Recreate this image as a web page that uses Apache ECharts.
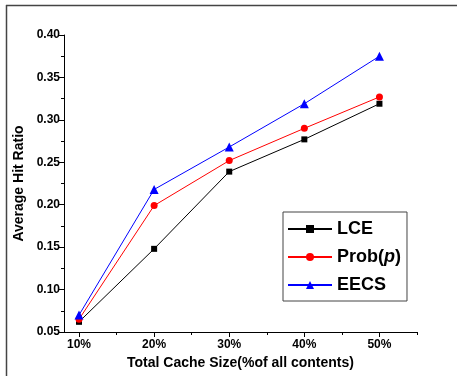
<!DOCTYPE html>
<html><head><meta charset="utf-8">
<script src="https://cdn.jsdelivr.net/npm/echarts@6/dist/echarts.min.js"></script>
<style>html,body{margin:0;padding:0;background:#fff}#c{width:457px;height:376px}</style>
</head><body><div id="c"></div>
<script>
var categories = [10, 20, 30, 40, 50];
var tickLabels = ['10%', '20%', '30%', '40%', '50%'];
var lce = [0.062, 0.148, 0.239, 0.277, 0.319];
var prob = [0.065, 0.199, 0.252, 0.290, 0.327];
var eecs = [0.070, 0.218, 0.268, 0.319, 0.375];
var seriesNames = ['LCE', 'Prob(p)', 'EECS'];

function pairs(vals){ return categories.map(function(c,i){ return [c, vals[i]]; }); }
var FONT = 'Liberation Sans, Arial, sans-serif';
var chart = echarts.init(document.getElementById('c'));
chart.setOption({
  animation: false,
  grid: {left: 64, right: 40, top: 35, bottom: 44},
  graphic: [
    {type:'line', shape:{x1:6.5,y1:5,x2:6.5,y2:376}, style:{stroke:'#444', lineWidth:1.5}},
    {type:'line', shape:{x1:6,y1:5.5,x2:457,y2:5.5}, style:{stroke:'#444', lineWidth:1.5}}
  ],
  legend: {
    left: 283, top: 212, orient: 'vertical', itemGap: 10,
    itemWidth: 44, itemHeight: 10,
    padding: [8, 6, 7, 4],
    borderColor: '#444', borderWidth: 1,
    data: seriesNames,
    formatter: function(n){ return n === 'Prob(p)' ? '{a|Prob(}{i|p}{a|)}' : '{a|' + n + '}'; },
    textStyle: {
      fontFamily: FONT, fontSize: 18, fontWeight: 'bold', color: '#000',
      rich: {
        a: {fontFamily: FONT, fontSize: 18, fontWeight: 'bold', color: '#000'},
        i: {fontFamily: FONT, fontSize: 18, fontWeight: 'bold', fontStyle: 'italic', color: '#000'}
      }
    }
  },
  xAxis: [{
    type: 'value', min: 8, max: 55,
    name: 'Total Cache Size(%of all contents)', nameLocation: 'middle', nameGap: 23,
    nameTextStyle: {fontFamily: FONT, fontSize: 14, fontWeight: 'bold', color: '#000'},
    axisLine: {lineStyle: {color: '#000', width: 1}},
    axisTick: {length: 5, customValues: categories, lineStyle: {color: '#000'}},
    axisLabel: {customValues: categories, margin: 7,
      formatter: function(v){ var i = categories.indexOf(v); return i >= 0 ? tickLabels[i] : ''; },
      fontFamily: FONT, fontSize: 12, fontWeight: 'bold', color: '#000'},
    splitLine: {show: false}
  }, {
    type: 'value', min: 8, max: 55, position: 'bottom',
    axisLine: {show: false},
    axisTick: {length: 3, customValues: [15, 25, 35, 45, 55], lineStyle: {color: '#000'}},
    axisLabel: {show: false},
    splitLine: {show: false}
  }],
  yAxis: {
    type: 'value', min: 0.05, max: 0.40, interval: 0.05,
    name: 'Average Hit Ratio', nameLocation: 'middle', nameGap: 38,
    nameTextStyle: {fontFamily: FONT, fontSize: 14, fontWeight: 'bold', color: '#000'},
    axisLine: {show: true, lineStyle: {color: '#000', width: 1}},
    axisTick: {show: true, length: 5, lineStyle: {color: '#000'}},
    minorTick: {show: true, splitNumber: 2, length: 3, lineStyle: {color: '#000'}},
    axisLabel: {formatter: function(v){ return v.toFixed(2); }, margin: 4,
      fontFamily: FONT, fontSize: 12, fontWeight: 'bold', color: '#000'},
    splitLine: {show: false}
  },
  series: [
    {name: 'LCE', type: 'line', data: pairs(lce), symbol: 'rect', symbolSize: 6,
     itemStyle: {color: '#000'}, lineStyle: {color: '#000', width: 1}},
    {name: 'Prob(p)', type: 'line', data: pairs(prob), symbol: 'circle', symbolSize: 7,
     itemStyle: {color: '#ff0000'}, lineStyle: {color: '#ff0000', width: 1}},
    {name: 'EECS', type: 'line', data: pairs(eecs), symbol: 'triangle', symbolSize: 9,
     itemStyle: {color: '#0000ff'}, lineStyle: {color: '#0000ff', width: 1}}
  ]
});
</script></body></html>
